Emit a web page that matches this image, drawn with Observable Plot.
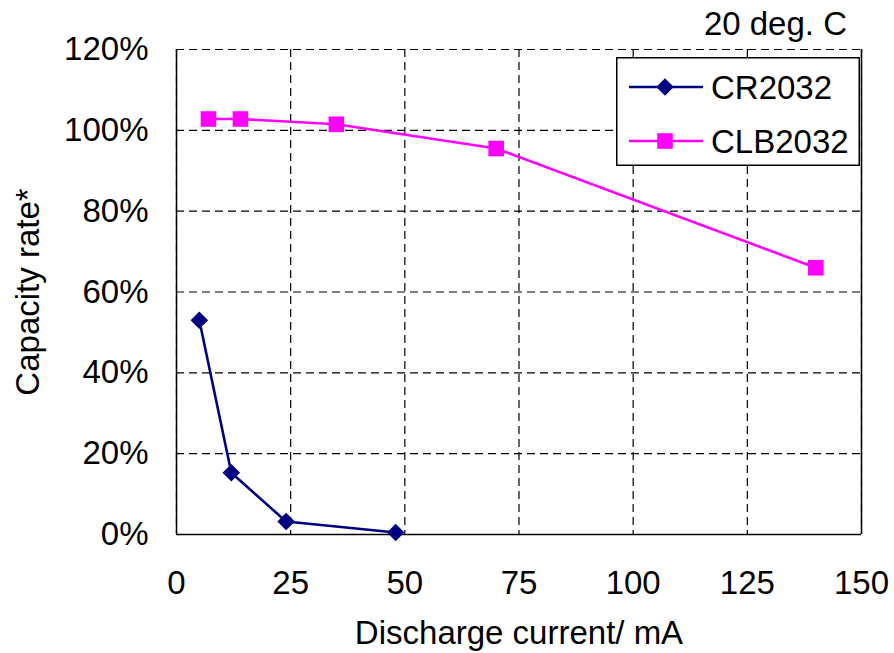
<!DOCTYPE html>
<html>
<head>
<meta charset="utf-8">
<script src="https://cdn.jsdelivr.net/npm/d3@7"></script>
<script src="https://cdn.jsdelivr.net/npm/@observablehq/plot@0.6"></script>
<style>
  body { margin: 0; background: white; font-family: "Liberation Sans", Arial, sans-serif; }
  #wrap { position: relative; width: 894px; height: 653px; }
  #note { position: absolute; right: 47px; top: 7px; font-size: 33px; line-height: 33px; color: black; }
  #legend { position: absolute; left: 616px; top: 57px; }
</style>
</head>
<body>
<div id="wrap">
  <div id="chart"></div>
  <div id="note">20 deg. C</div>
  <svg id="legend" width="244" height="109"></svg>
</div>
<script>
const seriesNames = ["CR2032", "CLB2032"];
const seriesColors = ["#000080", "#ff00ff"];
const seriesSymbols = ["diamond2", "square"];

const crCurrent = [5, 12, 24, 48];
const crCapacity = [0.53, 0.153, 0.032, 0.005];

const clbCurrent = [7, 14, 35, 70, 140];
const clbCapacity = [1.028, 1.028, 1.015, 0.955, 0.66];

const xTicks = [0, 25, 50, 75, 100, 125, 150];
const yTicks = [0, 0.2, 0.4, 0.6, 0.8, 1.0, 1.2];

const xLabel = "Discharge current/ mA";
const yLabel = "Capacity rate*";

const data = [
  ...crCurrent.map((c, i) => ({series: seriesNames[0], current: c, capacity: crCapacity[i]})),
  ...clbCurrent.map((c, i) => ({series: seriesNames[1], current: c, capacity: clbCapacity[i]}))
];

const font = "'Liberation Sans', Arial, sans-serif";

const chart = Plot.plot({
  width: 894,
  height: 653,
  marginLeft: 176,
  marginRight: 33,
  marginTop: 49,
  marginBottom: 119,
  style: {fontFamily: font, fontSize: "33px", background: "white", color: "black", overflow: "visible"},
  x: {domain: [0, 150]},
  y: {domain: [0, 1.2]},
  color: {domain: seriesNames, range: seriesColors},
  symbol: {domain: seriesNames, range: seriesSymbols},
  marks: [
    Plot.ruleX(xTicks, {stroke: "black", strokeWidth: 1.2, strokeDasharray: "8,5"}),
    Plot.ruleY(yTicks, {stroke: "black", strokeWidth: 1.2, strokeDasharray: "8,5"}),
    Plot.ruleX([0, 150], {stroke: "black", strokeWidth: 1.5}),
    Plot.ruleY([0], {stroke: "black", strokeWidth: 1.5}),
    Plot.axisX({ticks: xTicks, tickSize: 0, tickPadding: 36, label: null, fontSize: 33}),
    Plot.axisY({ticks: yTicks, tickSize: 0, tickPadding: 28, tickFormat: d3.format(".0%"), label: null, fontSize: 33}),
    Plot.text([xLabel], {frameAnchor: "bottom", textAnchor: "middle", dy: 109, fontSize: 33, fill: "black"}),
    Plot.text([yLabel], {frameAnchor: "left", textAnchor: "middle", dx: -148, rotate: -90, fontSize: 33, fill: "black"}),
    Plot.line(data, {x: "current", y: "capacity", z: "series", stroke: "series", strokeWidth: 2.6}),
    Plot.dot(data.filter(d => d.series === seriesNames[0]), {x: "current", y: "capacity", symbol: "series", fill: "series", stroke: "none", r: 7.9}),
    Plot.dot(data.filter(d => d.series === seriesNames[1]), {x: "current", y: "capacity", symbol: "series", fill: "series", stroke: "none", r: 8.8})
  ]
});
document.getElementById("chart").appendChild(chart);

// Legend
const lg = d3.select("#legend");
lg.append("rect").attr("x", 0.75).attr("y", 0.75).attr("width", 242.5).attr("height", 107.5)
  .attr("fill", "white").attr("stroke", "black").attr("stroke-width", 1.5);
const rowsY = [30, 84];
seriesNames.forEach((name, i) => {
  const g = lg.append("g").attr("transform", `translate(0,${rowsY[i]})`);
  g.append("line").attr("x1", 13).attr("x2", 87).attr("y1", 0).attr("y2", 0)
    .attr("stroke", seriesColors[i]).attr("stroke-width", 2.6);
  const sym = i === 0 ? d3.symbol(d3.symbolDiamond2, Math.PI * 7.9 * 7.9) : d3.symbol(d3.symbolSquare, Math.PI * 8.8 * 8.8);
  g.append("path").attr("d", sym()).attr("transform", "translate(49,0)").attr("fill", seriesColors[i]);
  g.append("text").attr("x", 95).attr("y", 0).attr("dy", "0.35em").attr("font-size", 33)
    .attr("font-family", font).attr("fill", "black").text(name);
});
</script>
</body>
</html>
